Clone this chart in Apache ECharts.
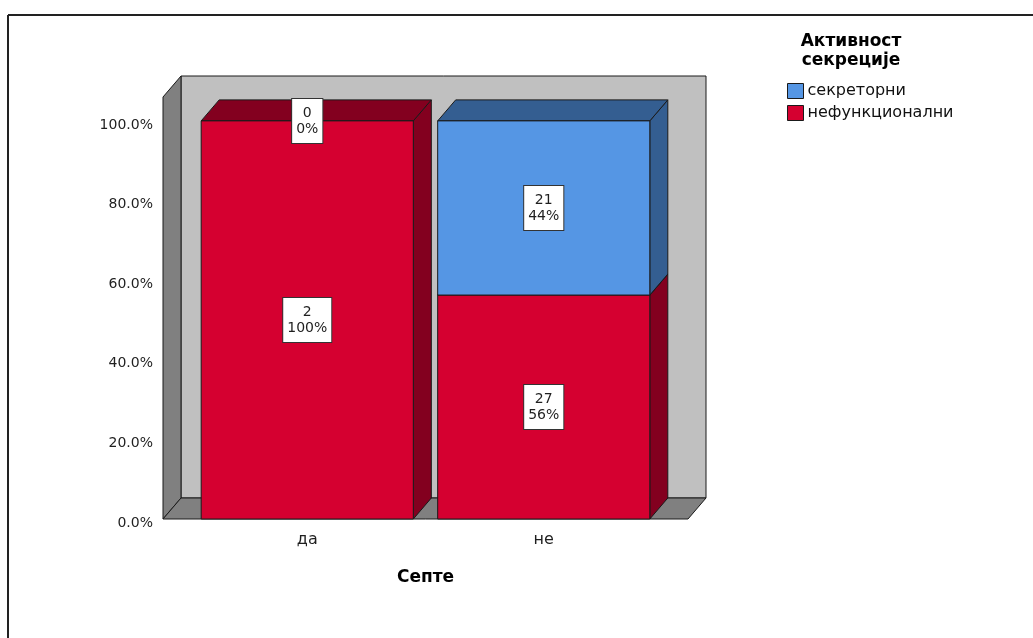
<!DOCTYPE html>
<html>
<head>
<meta charset="utf-8">
<script src="https://cdn.jsdelivr.net/npm/echarts@6/dist/echarts.min.js"></script>
<style>
  html, body { margin: 0; padding: 0; background: #ffffff; }
  #chart { width: 1033px; height: 638px; }
</style>
</head>
<body>
<div id="chart"></div>
<script>
// Septe vs. secretion activity: counts per group
const categories = ['да', 'не'];
const nameNefunkcionalni = 'нефункционални';
const nameSekretorni = 'секреторни';
const countsNefunkcionalni = [2, 27];
const countsSekretorni = [0, 21];
const yTicks = [0, 0.2, 0.4, 0.6, 0.8, 1.0];

const FONT = "'DejaVu Sans', Verdana, sans-serif";
const TEXT = '#1f1f1f';
const EDGE = '#1a1a1a';
const DX = 18, DY = -21;          // 3D depth offset
const BAR_RATIO = 0.897;          // bar width share of the category band
const WALL_PAD = 26;              // walls reach past the outer category bands

const RED = '#D50030', RED_DARK = '#83001F';
const BLUE = '#5596E4', BLUE_DARK = '#345E91';
const WALL_BACK = '#C0C0C0', WALL_SIDE = '#808080';

const totals = categories.map((_, i) => countsNefunkcionalni[i] + countsSekretorni[i]);

// [category, stackStart, stackEnd, count, percent]
function stackData(counts, below) {
  return categories.map((_, i) => {
    const start = below ? below[i] / totals[i] : 0;
    const end = start + counts[i] / totals[i];
    return [i, start, end, counts[i], Math.round(counts[i] / totals[i] * 100)];
  });
}
const redData = stackData(countsNefunkcionalni, null);
const blueData = stackData(countsSekretorni, countsNefunkcionalni);
const labelData = redData.concat(blueData).map(d => [d[0], (d[1] + d[2]) / 2, d[3], d[4]]);

const line = { stroke: EDGE, lineWidth: 1 };

function renderWalls(params, api) {
  const cs = params.coordSys;
  const xL = cs.x - WALL_PAD, xR = cs.x + cs.width + WALL_PAD;
  const y0 = api.coord([0, 0])[1];
  const yT = cs.y;
  return {
    type: 'group',
    children: [
      { type: 'rect', shape: { x: xL + DX, y: yT + DY, width: xR - xL, height: y0 - yT },
        style: Object.assign({ fill: WALL_BACK }, line) },
      { type: 'polygon', shape: { points: [[xL, yT], [xL + DX, yT + DY], [xL + DX, y0 + DY], [xL, y0]] },
        style: Object.assign({ fill: WALL_SIDE }, line) },
      { type: 'polygon', shape: { points: [[xL, y0], [xL + DX, y0 + DY], [xR + DX, y0 + DY], [xR, y0]] },
        style: Object.assign({ fill: WALL_SIDE }, line) }
    ]
  };
}

function bar3D(front, dark) {
  return function (params, api) {
    const i = api.value(0), s = api.value(1), e = api.value(2);
    if (e - s <= 0) return null;
    const w = api.size([1, 0])[0] * BAR_RATIO;
    const b = api.coord([i, s]), t = api.coord([i, e]);
    const x0 = b[0] - w / 2, x1 = b[0] + w / 2, yb = b[1], yt = t[1];
    return {
      type: 'group',
      children: [
        { type: 'polygon', shape: { points: [[x1, yt], [x1 + DX, yt + DY], [x1 + DX, yb + DY], [x1, yb]] },
          style: Object.assign({ fill: dark }, line) },
        { type: 'polygon', shape: { points: [[x0, yt], [x0 + DX, yt + DY], [x1 + DX, yt + DY], [x1, yt]] },
          style: Object.assign({ fill: dark }, line) },
        { type: 'rect', shape: { x: x0, y: yt, width: x1 - x0, height: yb - yt },
          style: Object.assign({ fill: front }, line) }
      ]
    };
  };
}

function renderLabel(params, api) {
  const c = api.coord([api.value(0), api.value(1)]);
  return {
    type: 'text',
    x: c[0], y: c[1],
    style: {
      text: api.value(2) + '\n' + api.value(3) + '%',
      align: 'center', verticalAlign: 'middle',
      fill: TEXT, font: '14px ' + FONT, lineHeight: 16,
      backgroundColor: '#ffffff', borderColor: '#333333', borderWidth: 1,
      padding: [6, 4, 6, 4]
    }
  };
}

const chart = echarts.init(document.getElementById('chart'), null, { renderer: 'canvas' });
chart.setOption({
  animation: false,
  backgroundColor: '#ffffff',
  grid: { left: 189, right: 371, top: 97, bottom: 119 },
  xAxis: {
    type: 'category',
    data: categories,
    axisLine: { show: false },
    axisTick: { show: false },
    axisLabel: { color: TEXT, fontFamily: FONT, fontSize: 16, margin: 13 },
    name: 'Септе',
    nameLocation: 'middle',
    nameGap: 50,
    nameTextStyle: { color: '#000', fontFamily: FONT, fontSize: 17, fontWeight: 'bold' }
  },
  yAxis: {
    type: 'value',
    min: 0, max: 1.06, interval: 0.2,
    axisLine: { show: false },
    axisTick: { show: false },
    splitLine: { show: false },
    axisLabel: {
      color: TEXT, fontFamily: FONT, fontSize: 14, margin: 36,
      verticalAlign: 'top', lineHeight: 8,
      formatter: v => (v > 1.0001 ? '' : (v * 100).toFixed(1) + '%')
    }
  },
  legend: {
    orient: 'vertical',
    left: 787, top: 83, padding: 0,
    icon: 'rect',
    itemWidth: 16, itemHeight: 15, itemGap: 6,
    itemStyle: { borderColor: EDGE, borderWidth: 1 },
    textStyle: { color: '#111', fontFamily: FONT, fontSize: 16, padding: [0, 0, 0, -1] },
    data: [nameSekretorni, nameNefunkcionalni]
  },
  graphic: [
    { type: 'line', shape: { x1: 8, y1: 15, x2: 1033, y2: 15 }, style: { stroke: '#222', lineWidth: 2 } },
    { type: 'line', shape: { x1: 8, y1: 15, x2: 8, y2: 638 }, style: { stroke: '#222', lineWidth: 2 } },
    { type: 'text', x: 851, y: 32,
      style: { text: 'Активност\nсекреције', align: 'center', verticalAlign: 'top',
               font: 'bold 17px ' + FONT, lineHeight: 19, fill: '#000' } }
  ],
  series: [
    { type: 'custom', name: 'walls', renderItem: renderWalls, data: [[0, 0]], z: 1, silent: true },
    { type: 'custom', name: nameNefunkcionalni, renderItem: bar3D(RED, RED_DARK), data: redData,
      itemStyle: { color: RED }, z: 2, encode: { x: 0, y: 2 } },
    { type: 'custom', name: nameSekretorni, renderItem: bar3D(BLUE, BLUE_DARK), data: blueData,
      itemStyle: { color: BLUE }, z: 3, encode: { x: 0, y: 2 } },
    { type: 'custom', name: 'labels', renderItem: renderLabel, data: labelData, z: 10, silent: true,
      encode: { x: 0, y: 1 } }
  ]
});
</script>
</body>
</html>
